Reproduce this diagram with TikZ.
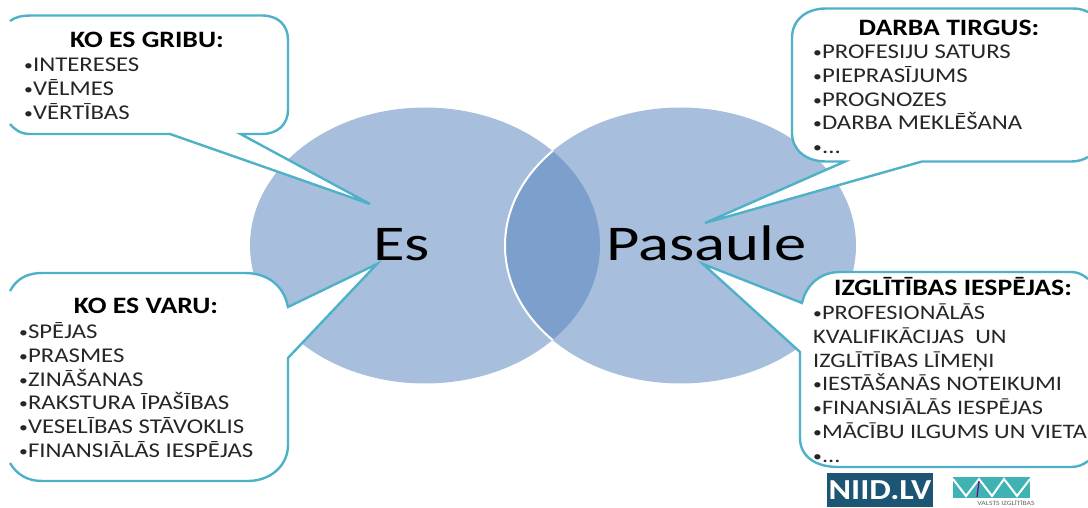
\documentclass[tikz,border=0pt]{standalone}
\usepackage{fontspec}
\setmainfont[FakeStretch=1.18]{Carlito}
\definecolor{circleblue}{HTML}{A7BFDD}
\definecolor{lensblue}{HTML}{7C9FCC}
\definecolor{calloutline}{HTML}{4FB1C8}
\definecolor{niidblue}{HTML}{1D5574}
\definecolor{mvateal}{HTML}{3FB3B3}
\newcommand{\smallbullet}{{\fontsize{15}{15}\selectfont\raisebox{.07em}{•}}}
\tikzset{
	callout/.style={draw=calloutline, line width=2.4pt, fill=white, line join=miter},
	heading/.style={font=\fontsize{23.5}{23.5}\selectfont\bfseries, anchor=base},
	itemlist/.style={font=\fontsize{21}{23.7}\selectfont, anchor=north west, align=left, inner sep=0pt, text=black!85},
	bigword/.style={font=\fontsize{50}{50}\selectfont, anchor=base west, inner sep=0pt, xscale=1.095}
}
\begin{document}
\begin{tikzpicture}[x=1pt, y=-1pt]
	\useasboundingbox (0,0) rectangle (1088,508);

	% Circles
	\fill[circleblue] (425,245.5) ellipse [x radius=175, y radius=138];
	\fill[circleblue] (680.5,245.5) ellipse [x radius=175.5, y radius=138];
	\begin{scope}
		\clip (425,245.5) ellipse [x radius=175, y radius=138];
		\fill[lensblue] (680.5,245.5) ellipse [x radius=175.5, y radius=138];
		\draw[white, line width=2pt] (680.5,245.5) ellipse [x radius=175.5, y radius=138];
	\end{scope}

	% Big labels
	\node[bigword] (es) at (373,260) {Es};
	\node[bigword] (pasaule) at (606.5,260) {Pasaule};

	% Callouts
	\filldraw[callout] (10,21) .. controls (15,17) and (22,15.5) .. (32,15.5) -- (262,15.5)
		.. controls (278,15.5) and (288,25) .. (288,40) -- (288,110)
		.. controls (288,124) and (278,134) .. (262,134) -- (240.5,134) -- (370,204) -- (170,134) -- (30,134)
		.. controls (21,134) and (15,130) .. (10,124);
	\filldraw[callout] (10,291) .. controls (17,278) and (28,273) .. (42,273) -- (245,273)
		.. controls (268,273) and (284,286) .. (288,307) -- (377,264) -- (288,358) -- (288,445)
		.. controls (288,466) and (270,481) .. (248,481) -- (42,481)
		.. controls (28,481) and (17,475) .. (10,463);
	\filldraw[callout] (1088,12) .. controls (1082,9) and (1078,8.5) .. (1072,8.5) -- (826,8.5)
		.. controls (806,8.5) and (792,20) .. (792,38) -- (792,133)
		.. controls (792,150) and (806,161.5) .. (826,161.5) -- (845,161.5) -- (705,223) -- (922,161.5) -- (1070,161.5)
		.. controls (1078,161.5) and (1083,160) .. (1088,157);
	\filldraw[callout] (1088,279) .. controls (1082,274) and (1078,272) .. (1070,272) -- (840,272)
		.. controls (820,272) and (806,285) .. (802,303) -- (703,264) -- (800,352) -- (800,438)
		.. controls (800,456) and (815,467) .. (838,467) -- (1070,467)
		.. controls (1078,467) and (1083,465) .. (1088,461);

	% Callout texts
	\node[heading] (gribu) at (147,47.5) {KO ES GRIBU:};
	\node[itemlist] (gribulist) at (24,58) {\smallbullet INTERESES\\\smallbullet VĒLMES\\\smallbullet VĒRTĪBAS};
	\node[heading] (varu) at (146,313) {KO ES VARU:};
	\node[itemlist] (varulist) at (19,322.5) {\smallbullet SPĒJAS\\\smallbullet PRASMES\\\smallbullet ZINĀŠANAS\\\smallbullet RAKSTURA ĪPAŠĪBAS\\\smallbullet VESELĪBAS STĀVOKLIS\\\smallbullet FINANSIĀLĀS IESPĒJAS};
	\node[heading] (tirgus) at (949,35.5) {DARBA TIRGUS:};
	\node[itemlist] (tirguslist) at (813,45) {\smallbullet PROFESIJU SATURS\\\smallbullet PIEPRASĪJUMS\\\smallbullet PROGNOZES\\\smallbullet DARBA MEKLĒŠANA\\\smallbullet ...};
	\node[heading] (iespejas) at (953,295) {IZGLĪTĪBAS IESPĒJAS:};
	\node[itemlist, font=\fontsize{20.6}{23.7}\selectfont] (iespejaslist) at (813,304) {\smallbullet PROFESIONĀLĀS\\KVALIFIKĀCIJAS\ \ UN\\IZGLĪTĪBAS LĪMEŅI\\\smallbullet IESTĀŠANĀS NOTEIKUMI\\\smallbullet FINANSIĀLĀS IESPĒJAS\\\smallbullet MĀCĪBU ILGUMS UN VIETA\\\smallbullet ...};

	% Logos
	\node[fill=niidblue, text=white, font=\fontsize{29}{29}\selectfont\bfseries, minimum width=106, minimum height=34, inner sep=0pt] (niid) at (880,490) {NIID.LV};
	\fill[mvateal] (953,477) rectangle (1030,498);
	\draw[white, line width=2pt] (953,479) -- (966,496) -- (979,479) -- (992,496) -- (1004,479) -- (1017,496) -- (1030,479);
	\draw[violet, line width=1.2pt] (979,481) -- (977,497);
	\node[font=\fontsize{6.5}{6.5}\selectfont, text=black!60, inner sep=0pt] (valsts) at (1006,503) {VALSTS IZGLĪTĪBAS};
\end{tikzpicture}
\end{document}
